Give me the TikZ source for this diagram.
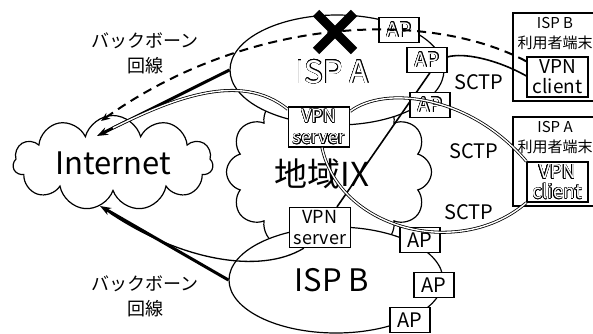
\documentclass[tikz,border=0pt]{standalone}
\usepackage{fontspec}
\setmainfont{Noto Sans CJK JP}
\usepackage[copies]{contour}
\contourlength{0.45pt}
\usetikzlibrary{shapes.geometric,shapes.symbols,shapes.misc,arrows.meta,positioning}

\newcommand\hollow[1]{{\color{white}\contour{black}{#1}}}
\newcommand\sz[2]{\fontsize{#1}{#2}\selectfont}

\tikzset{
  net/.style={cloud, cloud ignores aspect, draw, line width=1.2pt, fill=white, inner sep=0pt},
  isp/.style={ellipse, draw, line width=1.2pt, fill=white, inner sep=0pt},
  apbox/.style={draw, line width=1.3pt, fill=white, minimum width=40pt, minimum height=25pt, inner sep=0pt, font=\sz{20}{20}},
  vpnbox/.style={draw, line width=1.3pt, fill=white, minimum width=61pt, minimum height=40pt, inner sep=0pt, align=center},
  termbox/.style={draw, line width=1.3pt, minimum width=88pt, minimum height=88pt, inner sep=0pt},
  tunnel/.style={double, double distance=1.4pt, line width=0.8pt},
  backbone/.style={line width=3pt, -{Stealth[length=11pt,width=8pt]}},
  sctp/.style={line width=1.6pt},
  lbl/.style={inner sep=0pt, align=center},
}

\begin{document}
\begin{tikzpicture}[x=1pt,y=-1pt]
  \useasboundingbox (0,0) rectangle (593,333);

  % clouds and ISPs
  \node[net, cloud puffs=12, minimum width=205pt, minimum height=170pt] (ix) at (329,172) {};
  \node[isp, minimum width=214pt, minimum height=110pt] (ispA) at (337,70) {};
  \node[isp, minimum width=214pt, minimum height=106pt] (ispB) at (336,280) {};
  \node[net, cloud puffs=11, minimum width=200pt, minimum height=95pt, font=\sz{31}{31}] (internet) at (113,163) {Internet};

  \node[lbl, font=\sz{33}{33}] (ixlbl) at (322,174) {地域IX};
  \node[lbl, font=\sz{31}{31}] (ispAlbl) at (332,72) {\hollow{ISP A}};
  \node[lbl, font=\sz{31}{31}] (ispBlbl) at (332,280) {ISP B};

  \node[lbl, font=\sz{18}{25}] (bbA) at (145,53) {バックボーン\\回線};
  \node[lbl, font=\sz{18}{25}] (bbB) at (145,296) {バックボーン\\回線};

  \node[lbl, font=\sz{20}{20}] (sctp1) at (479,82) {SCTP};
  \node[lbl, font=\sz{20}{20}] (sctp2) at (474,151) {SCTP};
  \node[lbl, font=\sz{20}{20}] (sctp3) at (469,212) {SCTP};

  % ends inside the Internet cloud
  \coordinate (tipDash) at (101,121);
  \coordinate (tipA) at (97,136);
  \coordinate (tunIn) at (113,128);
  \coordinate (tipB) at (100,206);
  \coordinate (lineB) at (110,213);

  % terminals
  \node[termbox] (termB) at (557,57) {};
  \node[lbl, below=5pt of termB.north, xshift=-2pt, font=\sz{15}{20}] (termBlbl) {ISP B\\利用者端末};
  \node[termbox, minimum height=89pt] (termA) at (557,161.5) {};
  \node[lbl, below=5pt of termA.north, xshift=-2pt, font=\sz{15}{20}] (termAlbl) {ISP A\\利用者端末};

  \draw[backbone] (ispA.west) -- (tipA);
  \draw[backbone] (ispB.west) -- (tipB);

  % boxes
  \node[vpnbox, font=\sz{18}{21}] (vpnA) at (319,127) {\hollow{VPN}\\\hollow{server}};
  \node[vpnbox, font=\sz{18}{21}] (vpnB) at (320,227.5) {VPN\\server};
  \node[vpnbox, font=\sz{19}{20}] (clientB) at (557.5,77) {VPN\\client};
  \node[vpnbox, font=\sz{19}{20}] (clientA) at (557.5,182) {\hollow{VPN}\\\hollow{client}};

  \draw[line width=1.3pt] (lineB) .. controls (180,260) and (260,275) .. ([xshift=15pt]vpnB.south west);
  \draw[sctp] ([xshift=17pt]vpnB.north) -- (436,64) .. controls (448,47) and (495,58) .. ([yshift=1pt]clientB.west);

  \node[apbox] (apA1) at (399,30) {\hollow{AP}};
  \node[apbox] (apA2) at (427,60) {\hollow{AP}};
  \node[apbox] (apA3) at (430,105) {\hollow{AP}};
  \node[apbox] (apB1) at (420,240) {AP};
  \node[apbox] (apB2) at (434,285) {AP};
  \node[apbox] (apB3) at (410,320) {AP};

  % tunnels
  \draw[tunnel] (tunIn) .. controls (170,100) and (240,70) .. ([yshift=-3pt]vpnA.north west);
  \draw[tunnel] ([yshift=-5pt]vpnA.north east) .. controls (385,85) and (470,95) .. (clientA.north west);
  \draw[tunnel] ([xshift=3pt]vpnA.south) .. controls (340,230) and (460,260) .. (clientA.south west);

  % broken backbone
  \draw[line width=2pt, dash pattern=on 9pt off 6pt, -{Stealth[length=9pt,width=7pt]}]
    ([yshift=-5pt]clientB.north west) .. controls (430,10) and (250,15) .. (tipDash);
  \node[cross out, draw, line width=9pt, minimum size=29pt, inner sep=0pt] (cut) at (335,32) {};
\end{tikzpicture}
\end{document}
